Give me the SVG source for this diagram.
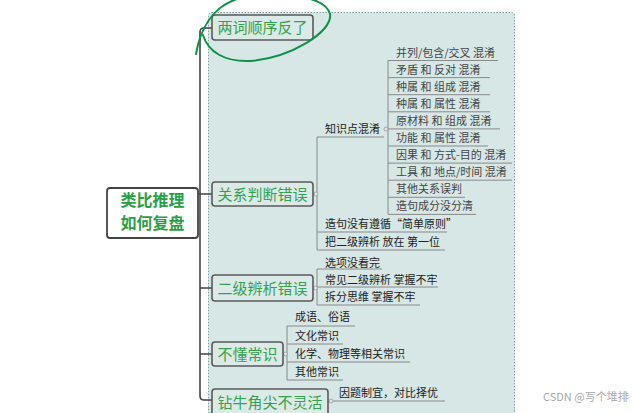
<svg xmlns="http://www.w3.org/2000/svg" width="636" height="413" viewBox="0 0 636 413">
<style>
.node{fill:#dbe9e7;stroke:#5a5a5a;stroke-width:1.6}
.main{fill:#ffffff;stroke:#444;stroke-width:1.8}
.t1{font-family:"Noto Sans CJK SC","Noto Sans",sans-serif;font-size:15px;fill:#34a24c}
.t0{font-family:"Noto Sans CJK SC","Noto Sans",sans-serif;font-size:16px;font-weight:bold;fill:#2aa046}
.t2{font-family:"Noto Sans CJK SC","Noto Sans",sans-serif;font-size:11px;fill:#222}
.t3{font-family:"Noto Sans CJK SC","Noto Sans",sans-serif;font-size:11px;fill:#444}
.ul{stroke:#8a8a8a;stroke-width:1;fill:none}
.br{stroke:#444;stroke-width:1.6;fill:none}
.dot{fill:#dbe9e7;stroke:#999;stroke-width:0.8}
</style>
<rect x="0" y="0" width="636" height="413" fill="#ffffff"/>
<rect x="208.5" y="12.5" width="306" height="420" rx="3" fill="#d6e7e5" stroke="#7f9e9c" stroke-width="1" stroke-dasharray="1.5,1.5"/>

<g id="connectors">
  <path class="br" d="M212,28 H204 Q200,28 200,32 V396 Q200,400 204,400 H212"/>
  <path class="br" d="M198,194 H212 M200,288 H212 M200,354 H212"/>
  <path class="ul" d="M313,194 H317 M317,137 V250 M317,137 H384 M317,232 H447 M317,250 H445"/>
  <path class="ul" d="M386,129 H388 M388,60.5 V214"/>
  <path class="ul" d="M388,60.5 H498 M388,77.6 H490 M388,94.7 H490 M388,111.8 H490 M388,128.9 H500 M388,146 H488 M388,163.1 H512 M388,180.2 H512 M388,197.3 H465 M388,214.4 H476"/>
  <path class="ul" d="M313,288 H317 M317,269 V305 M317,269 H382 M317,287 H438 M317,305 H420"/>
  <path class="ul" d="M283,354 H287 M287,326 V380 M287,326 H355 M287,344 H343 M287,362 H410 M287,380 H343"/>
  <path class="ul" d="M328,401 H445"/>
  <circle class="dot" cx="316" cy="194" r="2"/>
  <circle class="dot" cx="386" cy="129" r="2"/>
  <circle class="dot" cx="315.5" cy="288" r="2"/>
  <circle class="dot" cx="285.5" cy="354" r="2"/>
  <circle class="dot" cx="331" cy="401" r="2"/>
</g>

<g id="root">
  <rect class="main" x="107" y="188" width="91" height="50" rx="3"/>
  <text class="t0" x="152.5" y="206" text-anchor="middle">类比推理</text>
  <text class="t0" x="152.5" y="229" text-anchor="middle">如何复盘</text>
</g>

<g id="n1">
  <rect class="node" x="212" y="15" width="101" height="25" rx="3"/>
  <text class="t1" x="262.5" y="33" text-anchor="middle">两词顺序反了</text>
</g>
<g id="n2">
  <rect class="node" x="212" y="182" width="101" height="24" rx="3"/>
  <text class="t1" x="262.5" y="199.5" text-anchor="middle">关系判断错误</text>
</g>
<g id="n3">
  <rect class="node" x="212" y="275" width="101" height="26" rx="3"/>
  <text class="t1" x="262.5" y="293.5" text-anchor="middle">二级辨析错误</text>
</g>
<g id="n4">
  <rect class="node" x="212" y="342" width="71" height="24" rx="3"/>
  <text class="t1" x="247.5" y="359.5" text-anchor="middle">不懂常识</text>
</g>
<g id="n5">
  <rect class="node" x="212" y="389" width="116" height="28" rx="3"/>
  <text class="t1" x="270" y="407.5" text-anchor="middle">钻牛角尖不灵活</text>
</g>

<g id="n2-children">
  <text class="t2" x="325" y="133">知识点混淆</text>
  <text class="t2" x="325" y="228">造句没有遵循“简单原则”</text>
  <text class="t2" x="325" y="246">把二级辨析 放在 第一位</text>
</g>
<g id="knowledge-items">
  <text class="t3" x="396" y="56.5">并列/包含/交叉 混淆</text>
  <text class="t3" x="396" y="73.6">矛盾 和 反对 混淆</text>
  <text class="t3" x="396" y="90.7">种属 和 组成 混淆</text>
  <text class="t3" x="396" y="107.8">种属 和 属性 混淆</text>
  <text class="t3" x="396" y="124.9">原材料 和 组成 混淆</text>
  <text class="t3" x="396" y="142">功能 和 属性 混淆</text>
  <text class="t3" x="396" y="159.1">因果 和 方式-目的 混淆</text>
  <text class="t3" x="396" y="176.2">工具 和 地点/时间 混淆</text>
  <text class="t3" x="396" y="193.3">其他关系误判</text>
  <text class="t3" x="396" y="210.4">造句成分没分清</text>
</g>
<g id="n3-children">
  <text class="t2" x="325" y="267">选项没看完</text>
  <text class="t2" x="325" y="284">常见二级辨析 掌握不牢</text>
  <text class="t2" x="325" y="301">拆分思维 掌握不牢</text>
</g>
<g id="n4-children">
  <text class="t2" x="295" y="321">成语、俗语</text>
  <text class="t2" x="295" y="340">文化常识</text>
  <text class="t2" x="295" y="358">化学、物理等相关常识</text>
  <text class="t2" x="295" y="376">其他常识</text>
</g>
<g id="n5-children">
  <text class="t2" x="339" y="397">因题制宜，对比择优</text>
</g>

<path d="M196,54 C200,30 212,6 240,-2 C280,-10 325,-4 330,14 C333,32 290,58 250,61 C225,62 208,52 203,35" fill="none" stroke="#0d9148" stroke-width="2" stroke-linecap="round"/>

<text x="543" y="401" font-family="'Noto Sans CJK SC','Noto Sans',sans-serif" font-size="11" fill="#a8a8a8">CSDN @写个堆排</text>
</svg>
